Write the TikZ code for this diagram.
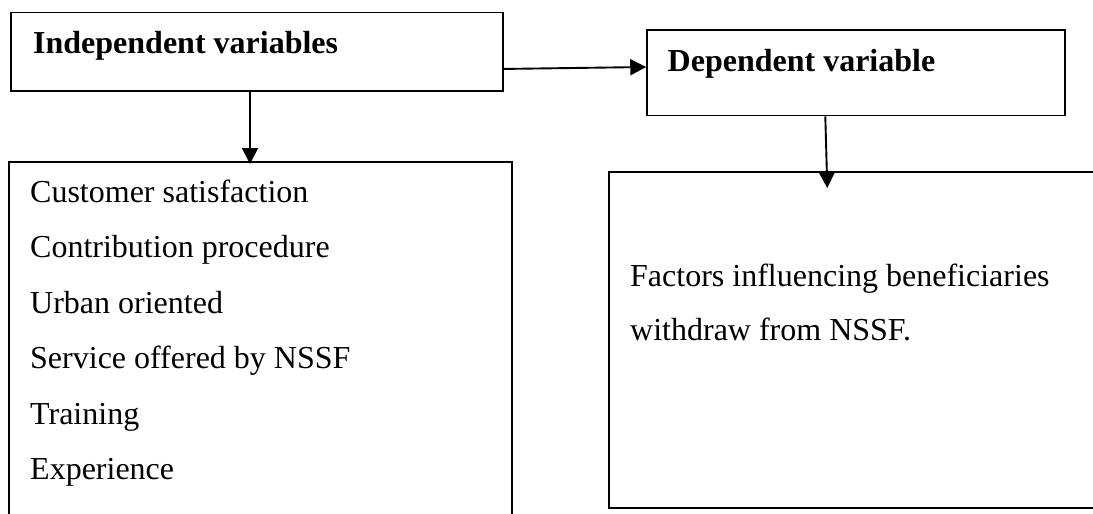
\documentclass[tikz,border=0pt]{standalone}
\usepackage{fontspec}
\setmainfont{Liberation Serif}
\usetikzlibrary{arrows.meta}
\begin{document}
\begin{tikzpicture}[x=1pt,y=-1pt,
  box/.style={draw=black, line width=1.5pt, inner sep=0pt, fill=none},
  txt/.style={anchor=base west, inner sep=0pt, font=\fontsize{32}{38}\selectfont},
  head/.style={txt, font=\fontsize{32}{38}\selectfont\bfseries},
  arr/.style={draw=black, line width=1.9pt, -{Triangle[length=16pt,width=16pt]}}]
\useasboundingbox (0,0) rectangle (1093,514);
\clip (0,0) rectangle (1093,514);
\fill[white] (0,0) rectangle (1093,514);
% boxes
\node[box, minimum width=492pt, minimum height=78.7pt] (indep) at (257,51.65) {};
\node[box, minimum width=418pt, minimum height=85.7pt] (dep) at (856,72.85) {};
\node[box, minimum width=503pt, minimum height=368pt] (lbox) at (260.5,346) {};
\node[box, minimum width=506pt, minimum height=336pt] (rbox) at (862,340) {};
% headings
\node[head] (indeptxt) at (33,53.3) {Independent variables};
\node[head] (deptxt) at (667.5,71.7) {Dependent variable};
% items
\node[txt] (i1) at (30,202) {Customer satisfaction};
\node[txt] (i2) at (30,257.5) {Contribution procedure};
\node[txt] (i3) at (30,313) {Urban oriented};
\node[txt] (i4) at (30,368.5) {Service offered by NSSF};
\node[txt] (i5) at (30,424) {Training};
\node[txt] (i6) at (30,479.5) {Experience};
\node[txt] (f1) at (630,286) {Factors influencing beneficiaries};
\node[txt] (f2) at (630,340) {withdraw from NSSF.};
% connectors
\coordinate (a1) at (250,164);
\draw[arr] (indep.south -| a1) -- (a1);
\draw[arr] ([yshift=-17.3pt]indep.east) -- ([yshift=5.85pt]dep.west);
\coordinate (a3s) at (825.3,115.7);
\coordinate (a3) at (827.3,188);
\draw[arr] (dep.south -| a3s) -- (a3);
\end{tikzpicture}
\end{document}
